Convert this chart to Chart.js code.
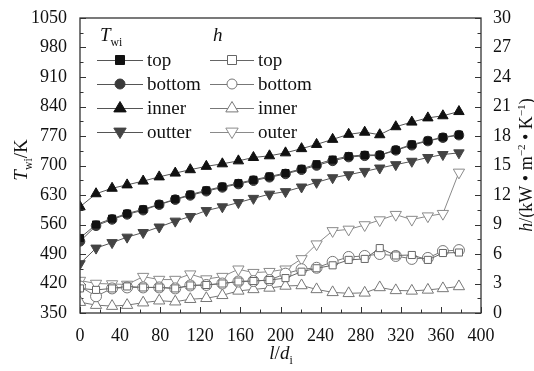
<!DOCTYPE html>
<html>
<head>
<meta charset="utf-8">
<script src="https://cdn.jsdelivr.net/npm/chart.js@4/dist/chart.umd.min.js"></script>
<style>
  html, body { margin: 0; padding: 0; background: #fff; }
  #wrap { width: 534px; height: 371px; }
</style>
</head>
<body>
<div id="wrap"><canvas id="c" width="534" height="371"></canvas></div>
<script>
// l/d_i positions
const lPos = [0, 16, 32, 47, 63, 79, 95, 110, 126, 142, 158, 173, 189, 205, 221, 236, 252, 268, 284, 299, 315, 331, 347, 362, 378];

// wall temperature T_wi (K)
const twTop    = [528, 560, 574, 586, 596, 608, 620, 631, 641, 650, 658, 666, 674, 682, 692, 703, 714, 722, 725, 725, 737, 750, 759, 767, 773];
const twBottom = [520, 557, 572, 584, 594, 607, 619, 629, 639, 648, 656, 664, 672, 680, 690, 700, 711, 720, 723, 724, 736, 748, 758, 766, 772];
const twInner  = [602, 633, 646, 654, 663, 673, 682, 690, 698, 704, 711, 719, 723, 730, 740, 750, 762, 774, 779, 773, 792, 803, 813, 818, 828];
const twOuter  = [467, 504, 517, 530, 541, 554, 568, 579, 593, 602, 612, 622, 632, 638, 649, 660, 671, 678, 686, 694, 702, 710, 719, 726, 730];

// heat transfer coefficient h (kW m-2 K-1)
const hTop    = [2.5, 2.35, 2.5, 2.7, 2.6, 2.6, 2.5, 2.8, 2.85, 3.0, 3.2, 3.25, 3.35, 3.55, 4.2, 4.55, 4.85, 5.4, 5.5, 6.6, 5.85, 5.9, 5.4, 6.1, 6.15];
const hBottom = [2.7, 1.7, 2.5, 2.6, 2.6, 2.6, 2.5, 2.8, 2.85, 3.0, 3.2, 3.25, 3.35, 4.0, 4.45, 4.6, 5.2, 5.7, 5.8, 6.0, 5.8, 5.5, 5.6, 6.3, 6.4];
const hInner  = [1.1, 0.8, 0.7, 0.8, 1.05, 1.25, 1.15, 1.4, 1.5, 1.8, 2.25, 2.4, 2.55, 2.75, 2.8, 2.4, 2.1, 2.0, 2.05, 2.6, 2.3, 2.25, 2.35, 2.5, 2.7];
const hOuter  = [3.3, 3.0, 2.95, 2.9, 3.7, 3.4, 3.4, 3.95, 3.45, 3.7, 4.45, 4.1, 4.2, 4.45, 5.5, 7.0, 8.35, 8.5, 8.95, 9.45, 10.0, 9.5, 9.85, 10.1, 14.3];

const labels = ["top", "bottom", "inner", "outter"];
const labelsH = ["top", "bottom", "inner", "outer"];

const serif = "'Liberation Serif', 'DejaVu Serif', serif";

const pts = (ys) => ys.map((y, i) => ({ x: lPos[i], y: y }));

function twSet(name, ys, style, rot, fill) {
  return {
    label: name, data: pts(ys), yAxisID: "y",
    borderColor: "#555", borderWidth: 1,
    pointStyle: style, pointRotation: rot,
    pointRadius: style === "rect" ? 5 : (style === "triangle" ? 6 : 4.8),
    pointBackgroundColor: fill, pointBorderColor: fill, pointBorderWidth: 1,
    tension: 0
  };
}
function hSet(name, ys, style, rot, col) {
  return {
    label: name, data: pts(ys), yAxisID: "y2",
    borderColor: col, borderWidth: 1,
    pointStyle: style, pointRotation: rot,
    pointRadius: style === "rect" ? 5 : (style === "triangle" ? 6.5 : 5.5),
    pointBackgroundColor: "#fff", pointBorderColor: col, pointBorderWidth: 1,
    tension: 0
  };
}

const datasets = [
  twSet(labels[0], twTop, "rect", 0, "#111"),
  twSet(labels[1], twBottom, "circle", 0, "#3a3a3a"),
  twSet(labels[2], twInner, "triangle", 0, "#111"),
  twSet(labels[3], twOuter, "triangle", 180, "#444"),
  hSet(labelsH[0], hTop, "rect", 0, "#666"),
  hSet(labelsH[1], hBottom, "circle", 0, "#777"),
  hSet(labelsH[2], hInner, "triangle", 0, "#777"),
  hSet(labelsH[3], hOuter, "triangle", 180, "#8a8a8a")
];

// rich text: parts [{t, it, sub, sup}]
function richWidth(ctx, parts, size) {
  let w = 0;
  parts.forEach(p => {
    const s = (p.sub || p.sup) ? size * 0.62 : size;
    ctx.font = (p.it ? "italic " : "") + s + "px " + serif;
    w += ctx.measureText(p.t).width;
  });
  return w;
}
function drawRich(ctx, parts, x, y, size) {
  let cx = x;
  parts.forEach(p => {
    const s = (p.sub || p.sup) ? size * 0.62 : size;
    ctx.font = (p.it ? "italic " : "") + s + "px " + serif;
    let dy = 0;
    if (p.sub) dy = size * 0.28;
    if (p.sup) dy = -size * 0.38;
    ctx.fillText(p.t, cx, y + dy);
    cx += ctx.measureText(p.t).width;
  });
}

function marker(ctx, style, rot, x, y, r) {
  ctx.beginPath();
  if (style === "rect") {
    const s = r * 0.9;
    ctx.rect(x - s, y - s, 2 * s, 2 * s);
  } else if (style === "circle") {
    ctx.arc(x, y, r, 0, Math.PI * 2);
  } else {
    const d = rot === 180 ? -1 : 1;
    ctx.moveTo(x, y - d * r);
    ctx.lineTo(x + r * 0.95, y + d * r * 0.6);
    ctx.lineTo(x - r * 0.95, y + d * r * 0.6);
    ctx.closePath();
  }
  ctx.fill();
  ctx.stroke();
}

const decor = {
  id: "decor",
  beforeDatasetsDraw(chart) {
    const ctx = chart.ctx, a = chart.chartArea;
    const sx = chart.scales.x, sy = chart.scales.y, sy2 = chart.scales.y2;
    ctx.save();
    ctx.strokeStyle = "#333";
    ctx.lineWidth = 1;
    // ticks on x (inward)
    for (let v = 0; v <= 400; v += 20) {
      const px = Math.round(sx.getPixelForValue(v)) + 0.5;
      const len = v % 40 === 0 ? 6 : 3.5;
      ctx.beginPath(); ctx.moveTo(px, a.bottom); ctx.lineTo(px, a.bottom - len); ctx.stroke();
    }
    for (let v = 350; v <= 1050; v += 35) {
      const py = Math.round(sy.getPixelForValue(v)) + 0.5;
      const len = (v - 350) % 70 === 0 ? 6 : 3.5;
      ctx.beginPath(); ctx.moveTo(a.left, py); ctx.lineTo(a.left + len, py); ctx.stroke();
    }
    for (let v = 0; v <= 30; v += 1.5) {
      const py = Math.round(sy2.getPixelForValue(v)) + 0.5;
      const len = Math.abs(v % 3) < 0.01 ? 6 : 3.5;
      ctx.beginPath(); ctx.moveTo(a.right, py); ctx.lineTo(a.right - len, py); ctx.stroke();
    }
    ctx.restore();
  },
  afterDraw(chart) {
    const ctx = chart.ctx, a = chart.chartArea;
    ctx.save();
    ctx.strokeStyle = "#333";
    ctx.lineWidth = 1.3;
    ctx.strokeRect(a.left, a.top, a.right - a.left, a.bottom - a.top);

    ctx.fillStyle = "#111";
    ctx.textBaseline = "alphabetic";
    ctx.textAlign = "left";

    // legend headers
    drawRich(ctx, [{ t: "T", it: true }, { t: "wi", sub: true }], 100, 41, 19);
    drawRich(ctx, [{ t: "h", it: true }], 213, 41, 19);

    // legend rows
    const rows = [60, 84, 108, 132];
    const cols = [{ x0: 97, x1: 143, tx: 147 }, { x0: 210, x1: 254, tx: 258 }];
    chart.data.datasets.forEach((ds, i) => {
      const col = cols[i < 4 ? 0 : 1];
      const y = rows[i % 4];
      ctx.strokeStyle = ds.borderColor;
      ctx.lineWidth = 1;
      ctx.beginPath(); ctx.moveTo(col.x0, y + 0.5); ctx.lineTo(col.x1, y + 0.5); ctx.stroke();
      ctx.fillStyle = ds.pointBackgroundColor;
      ctx.strokeStyle = ds.pointBorderColor;
      marker(ctx, ds.pointStyle, ds.pointRotation, (col.x0 + col.x1) / 2, y, ds.pointStyle === "triangle" ? 6.5 : 5);
      ctx.fillStyle = "#111";
      ctx.font = "19px " + serif;
      ctx.fillText(ds.label, col.tx, y + 6);
    });

    // left axis title
    const lt = [{ t: "T", it: true }, { t: "wi", sub: true }, { t: "/K" }];
    ctx.save();
    ctx.translate(27, 160);
    ctx.rotate(-Math.PI / 2);
    drawRich(ctx, lt, -richWidth(ctx, lt, 19) / 2, 0, 19);
    ctx.restore();

    // right axis title
    const rt = [{ t: "h", it: true }, { t: "/(kW \u2022 m" }, { t: "\u22122", sup: true }, { t: " \u2022 K" }, { t: "\u22121", sup: true }, { t: ")" }];
    ctx.save();
    ctx.translate(532, 165);
    ctx.rotate(-Math.PI / 2);
    drawRich(ctx, rt, -richWidth(ctx, rt, 18) / 2, 0, 18);
    ctx.restore();

    // x title
    const xt = [{ t: "l", it: true }, { t: "/" }, { t: "d", it: true }, { t: "i", sub: true }];
    drawRich(ctx, xt, 281 - richWidth(ctx, xt, 19) / 2, 359, 19);
    ctx.restore();
  }
};

const plain = (v) => String(v);

new Chart(document.getElementById("c"), {
  type: "line",
  data: { datasets: datasets },
  plugins: [decor],
  options: {
    responsive: false,
    animation: false,
    devicePixelRatio: 1,
    layout: { padding: { top: 18, left: 0, right: 0, bottom: 0 } },
    plugins: { legend: { display: false }, tooltip: { enabled: false } },
    scales: {
      x: {
        type: "linear", min: 0, max: 400,
        grid: { display: false }, border: { display: false },
        ticks: { stepSize: 40, color: "#111", padding: 4, font: { family: serif, size: 18 }, maxRotation: 0, callback: plain },
        afterFit: (s) => { s.height = 58; }
      },
      y: {
        type: "linear", position: "left", min: 350, max: 1050,
        grid: { display: false }, border: { display: false },
        ticks: { stepSize: 70, color: "#111", padding: 5, font: { family: serif, size: 18 }, callback: plain },
        afterFit: (s) => { s.width = 80; }
      },
      y2: {
        type: "linear", position: "right", min: 0, max: 30,
        grid: { display: false }, border: { display: false },
        ticks: { stepSize: 3, color: "#111", padding: 4, font: { family: serif, size: 18 }, callback: plain },
        afterFit: (s) => { s.width = 53; }
      }
    }
  }
});
</script>
</body>
</html>
